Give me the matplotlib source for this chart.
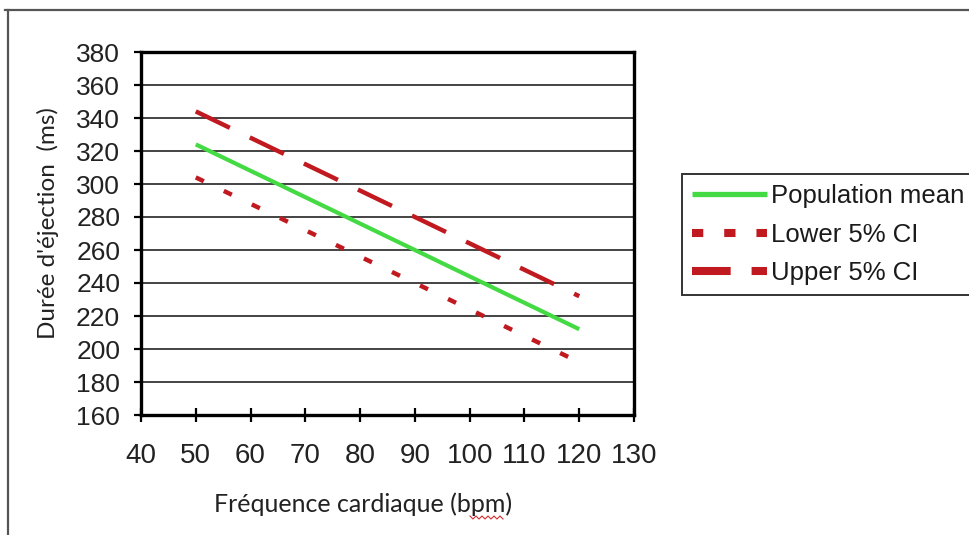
import matplotlib
matplotlib.use("Agg")
import matplotlib.pyplot as plt
from matplotlib.lines import Line2D

# heart rate (bpm) and ejection duration (ms)
heart_rate = [50, 60, 70, 80, 90, 100, 110, 120]
pop_mean = [324, 308, 292, 276, 260, 244, 228, 212]
lower_ci = [304, 288, 272, 256, 240, 224, 208, 192]
upper_ci = [344, 328, 312, 296, 280, 264, 248, 232]

x_ticks = [40, 50, 60, 70, 80, 90, 100, 110, 120, 130]
y_ticks = [160, 180, 200, 220, 240, 260, 280, 300, 320, 340, 360, 380]

labels = ["Population mean", "Lower 5% CI", "Upper 5% CI"]
green = "#44da44"
red = "#c0191f"

plt.rcParams["font.family"] = ["Liberation Sans", "DejaVu Sans"]

fig = plt.figure(figsize=(9.70, 5.35), dpi=100)
ax = fig.add_axes([141 / 970, 1 - 415 / 535, 493 / 970, 363 / 535])

ax.plot(heart_rate, pop_mean, color=green, lw=3.0, solid_capstyle="butt", zorder=3)
ax.plot(heart_rate, lower_ci, color=red, lw=3.2, linestyle=(0, (2.0, 5.0)), zorder=3)
ax.plot(heart_rate, upper_ci, color=red, lw=3.2, linestyle=(0, (8.5, 5.0)), zorder=3)

ax.set_xlim(40, 130)
ax.set_ylim(160, 380)
ax.set_xticks(x_ticks)
ax.set_yticks(y_ticks)
ax.tick_params(axis="x", direction="inout", length=10, width=1.6, labelsize=20,
               pad=15, labelcolor="#222222")
ax.tick_params(axis="y", direction="out", length=5, width=1.6, labelsize=19,
               pad=10, labelcolor="#222222")

ax.grid(axis="y", color="#111111", lw=1.1)
ax.set_axisbelow(True)
for side in ["left", "right", "top", "bottom"]:
    ax.spines[side].set_linewidth(2.4)
    ax.spines[side].set_color("black")

ax.set_xlabel("Fréquence cardiaque (bpm)", family="Lato", fontsize=18, color="#222222")
ax.xaxis.set_label_coords((363 - 141) / 493, -(492 - 415) / 363)
ax.set_ylabel("Durée d'éjection  (ms)", family="Lato", fontsize=17.5, color="#222222")
ax.yaxis.set_label_coords((59 - 141) / 493, 0.53)

# legend keys are drawn heavier than the plotted lines
handles = [
    Line2D([], [], color=green, lw=3.8, solid_capstyle="butt"),
    Line2D([], [], color=red, lw=5.8, linestyle=(0, (1.4, 2.6))),
    Line2D([], [], color=red, lw=5.8, linestyle=(0, (4.8, 2.6))),
]
leg = fig.legend(handles, labels, loc="upper left",
                 bbox_to_anchor=(682 / 970, 1 - 174 / 535),
                 fontsize=18.5, frameon=True, fancybox=False,
                 borderpad=0.4, labelspacing=0.56, handlelength=2.9,
                 handletextpad=0.15, borderaxespad=0)
leg.get_frame().set_edgecolor("black")
leg.get_frame().set_linewidth(1.4)
for t in leg.get_texts():
    t.set_color("#1a1a1a")

# outer chart border (top and left edges)
fig.add_artist(Line2D([5 / 970, 1], [1 - 10 / 535, 1 - 10 / 535], color="#555555", lw=1.6,
                      transform=fig.transFigure))
fig.add_artist(Line2D([8 / 970, 8 / 970], [0, 1 - 10 / 535], color="#555555", lw=1.6,
                      transform=fig.transFigure))

# spell-check squiggle under "bpm"
sq_x = [470, 473, 476, 479, 482, 485, 488, 491, 494, 497, 500, 503]
sq_y = [516, 519, 516, 519, 516, 519, 516, 519, 516, 519, 516, 519]
fig.add_artist(Line2D([v / 970 for v in sq_x], [1 - v / 535 for v in sq_y], color="#d03030",
                      lw=0.8, transform=fig.transFigure))

fig.savefig("out.png", dpi=100)
